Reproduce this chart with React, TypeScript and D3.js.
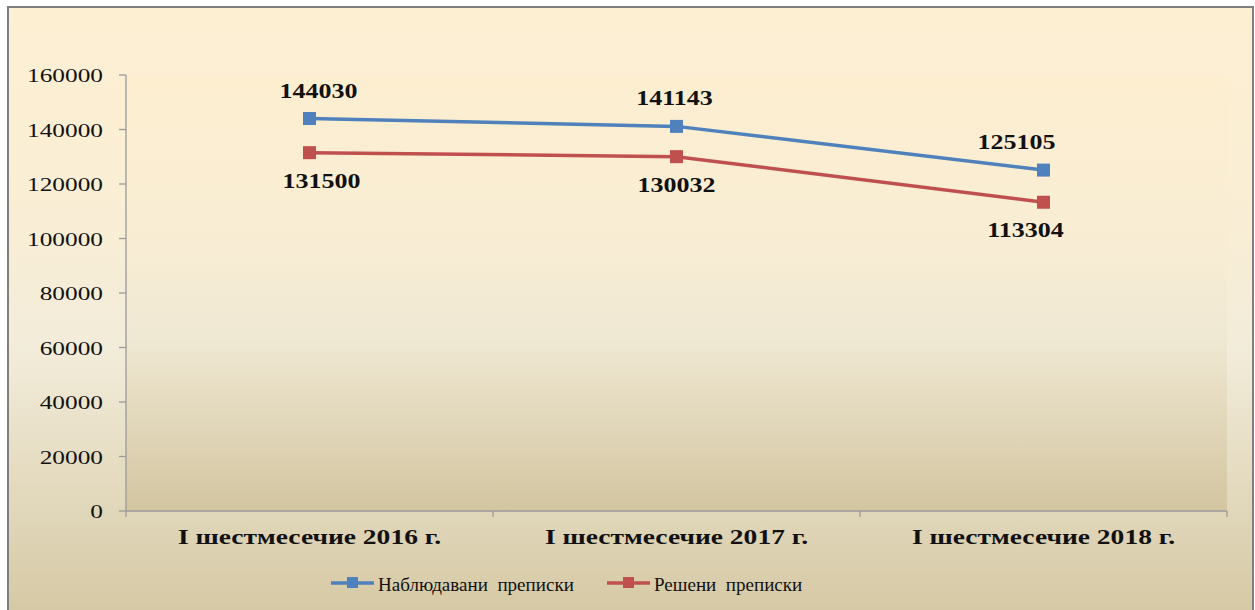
import React from "react";
import * as d3 from "d3";

const categories = ["I шестмесечие 2016 г.", "I шестмесечие 2017 г.", "I шестмесечие 2018 г."];
const observed = [144030, 141143, 125105];
const resolved = [131500, 130032, 113304];
const seriesNames = ["Наблюдавани  преписки", "Решени  преписки"];
const yTicks = [0, 20000, 40000, 60000, 80000, 100000, 120000, 140000, 160000];

// manual nudges of the data labels, as in the source chart
const observedLabelDx = [9, -2, -27];
const resolvedLabelDx = [12, 0, -18];

const W = 1255;
const H = 610;
const blue = "#4F81BD";
const red = "#C0504D";
const serif = "'Liberation Serif', 'Times New Roman', serif";
const sx = 1.3; // the picture is stretched sideways

const App = () => {
  const x = d3.scaleBand().domain(categories).range([126, 1227]);
  const y = d3.scaleLinear().domain([0, 160000]).range([511, 75]);
  const cx = (c: string) => (x(c) as number) + x.bandwidth() / 2;

  const line = d3
    .line<number>()
    .x((_, i) => cx(categories[i]))
    .y((d) => y(d));

  const stretched = (tx: number, ty: number, k = sx) => `translate(${tx},${ty}) scale(${k},1)`;

  const series = [
    { name: seriesNames[0], values: observed, color: blue, dx: observedLabelDx, dy: -21 },
    { name: seriesNames[1], values: resolved, color: red, dx: resolvedLabelDx, dy: 35 },
  ];
  const legendX = [331, 607];

  return (
    <svg width={W} height={H} style={{ position: "absolute", left: 0, top: 0 }}>
      <defs>
        <linearGradient id="outerBg" x1="0" y1="0" x2="0" y2="1">
          <stop offset="0" stopColor="#FDEFD2" />
          <stop offset="0.35" stopColor="#F9EED5" />
          <stop offset="0.55" stopColor="#F2ECDA" />
          <stop offset="1" stopColor="#D4C7A2" />
        </linearGradient>
        <linearGradient id="plotBg" x1="0" y1="0" x2="0" y2="1">
          <stop offset="0" stopColor="#FDEED0" />
          <stop offset="0.4" stopColor="#F8EDD4" />
          <stop offset="0.6" stopColor="#EFE8D3" />
          <stop offset="1" stopColor="#D3C5A0" />
        </linearGradient>
      </defs>
      <rect x={8} y={7} width={1245} height={620} fill="url(#outerBg)" stroke="#7F7F7F" strokeWidth={2} />
      <rect x={126} y={75} width={1101} height={436} fill="url(#plotBg)" />

      {/* y axis */}
      <line x1={126} x2={126} y1={75} y2={511} stroke="#9A9A9A" strokeWidth={1.3} />
      {yTicks.map((t) => (
        <g key={t}>
          <line x1={119} x2={126} y1={y(t)} y2={y(t)} stroke="#9A9A9A" strokeWidth={1.3} />
          <text
            transform={stretched(103, y(t) + 7)}
            textAnchor="end"
            fontFamily={serif}
            fontSize={19.5}
            fill="#111"
          >
            {t}
          </text>
        </g>
      ))}

      {/* x axis */}
      <line x1={126} x2={1227} y1={511} y2={511} stroke="#9A9A9A" strokeWidth={1.3} />
      {[...categories.map((c) => x(c) as number), 1227].map((v, i) => (
        <line key={i} x1={v} x2={v} y1={511} y2={517} stroke="#9A9A9A" strokeWidth={1.3} />
      ))}
      {categories.map((c) => (
        <text
          key={c}
          transform={stretched(cx(c), 543.5, 1.28)}
          textAnchor="middle"
          fontFamily={serif}
          fontWeight="bold"
          fontSize={21.5}
          fill="#111"
        >
          {c}
        </text>
      ))}

      {/* series */}
      {series.map((s) => (
        <g key={s.name}>
          <path d={line(s.values) as string} fill="none" stroke={s.color} strokeWidth={3.5} />
          {s.values.map((v, i) => (
            <rect
              key={i}
              x={cx(categories[i]) - 6.5}
              y={y(v) - 6.5}
              width={13}
              height={13}
              fill={s.color}
            />
          ))}
          {s.values.map((v, i) => (
            <text
              key={"l" + i}
              transform={stretched(cx(categories[i]) + s.dx[i], y(v) + s.dy)}
              textAnchor="middle"
              fontFamily={serif}
              fontWeight="bold"
              fontSize={20}
              fill="#111"
            >
              {v}
            </text>
          ))}
        </g>
      ))}

      {/* legend */}
      {series.map((s, i) => (
        <g key={"lg" + s.name}>
          <line x1={legendX[i]} x2={legendX[i] + 43} y1={583} y2={583} stroke={s.color} strokeWidth={3.5} />
          <rect x={legendX[i] + 16} y={577} width={11} height={11} fill={s.color} />
          <text
            transform={stretched(legendX[i] + 47, 590.5, 1.03)}
            fontFamily={serif}
            fontSize={18.5}
            fill="#111"
            style={{ whiteSpace: "pre" }}
          >
            {s.name}
          </text>
        </g>
      ))}
    </svg>
  );
};

export default App;
